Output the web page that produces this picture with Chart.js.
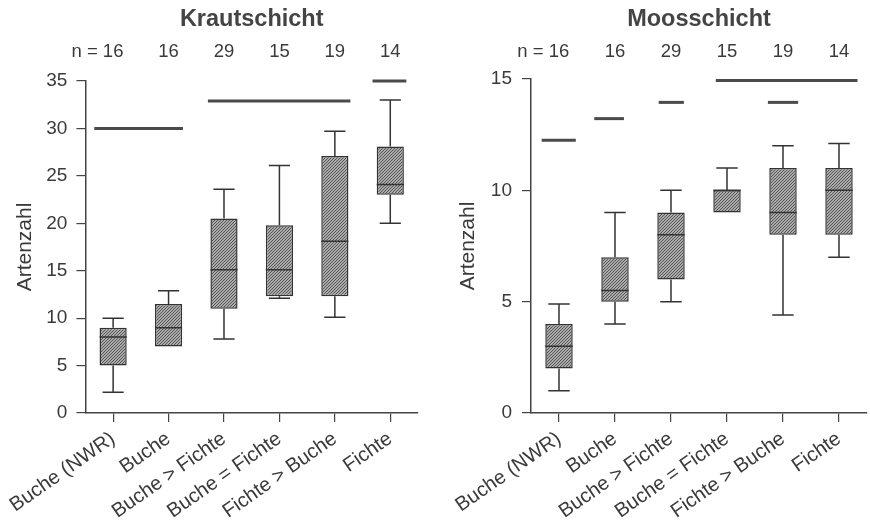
<!DOCTYPE html>
<html lang="de">
<head>
<meta charset="UTF-8">
<title>Artenzahl Kraut- und Moosschicht</title>
<script src="https://cdn.jsdelivr.net/npm/chart.js"></script>
<style>
  body { margin: 0; background: #fff; }
  .wrap { display: flex; width: 870px; height: 526px; }
  canvas { display: block; }
</style>
</head>
<body>
<div class="wrap">
  <canvas id="kraut" width="435" height="526"></canvas>
  <canvas id="moos" width="435" height="526"></canvas>
</div>
<script>
// Kategorien und Stichprobenumfang
const categories = ["Buche (NWR)", "Buche", "Buche > Fichte", "Buche = Fichte", "Fichte > Buche", "Fichte"];
const nCounts = [16, 16, 29, 15, 19, 14];

// Krautschicht: Min, Q1, Median, Q3, Max
const krautMin = [2.2, 7.0, 7.8, 12.1, 10.1, 20.0];
const krautQ1 = [5.0, 7.0, 11.0, 12.3, 12.3, 23.0];
const krautMed = [8.0, 9.0, 15.1, 15.1, 18.1, 24.1];
const krautQ3 = [9.0, 11.5, 20.5, 19.8, 27.1, 28.1];
const krautMax = [10.0, 12.9, 23.6, 26.1, 29.7, 33.0];
// homogene Gruppen (Linien oben)
const krautSigY = [30, 32.9, 35];
const krautSigFrom = [-0.34, 1.71, 4.68];
const krautSigTo = [1.26, 4.28, 5.29];

// Moosschicht
const moosMin = [1.0, 4.0, 5.0, 9.0, 4.4, 7.0];
const moosQ1 = [2.0, 5.0, 6.0, 9.0, 8.0, 8.0];
const moosMed = [3.0, 5.5, 8.0, 10.0, 9.0, 10.0];
const moosQ3 = [4.0, 7.0, 9.0, 10.0, 11.0, 11.0];
const moosMax = [4.9, 9.0, 10.0, 11.0, 12.0, 12.1];
const moosSigY = [12.25, 13.22, 13.95, 14.93, 13.95];
const moosSigFrom = [-0.31, 0.63, 1.78, 2.80, 3.73];
const moosSigTo = [0.30, 1.16, 2.23, 5.33, 4.27];

const FONT = "'Liberation Sans', Arial, sans-serif";
const INK = "#3a3a3a";
Chart.defaults.font.family = FONT;
Chart.defaults.color = INK;

// schraffierte Füllung
function hatch() {
  const c = document.createElement("canvas");
  c.width = 3; c.height = 3;
  const g = c.getContext("2d");
  g.fillStyle = "#ababab";
  g.fillRect(0, 0, 3, 3);
  g.fillStyle = "#555";
  g.fillRect(2, 0, 1, 1);
  g.fillRect(1, 1, 1, 1);
  g.fillRect(0, 2, 1, 1);
  return g.createPattern(c, "repeat");
}

// Whisker, Median, n-Werte und Titel
const boxExtras = {
  id: "boxExtras",
  afterDatasetsDraw(chart, args, opts) {
    const ctx = chart.ctx;
    const x = chart.scales.x, y = chart.scales.y;
    const bars = chart.getDatasetMeta(0).data;
    ctx.save();
    ctx.strokeStyle = "#333";
    ctx.lineWidth = 1.5;
    opts.med.forEach((m, i) => {
      const cx = x.getPixelForValue(i);
      const half = bars[i].width / 2;
      const cap = half * 0.78;
      ctx.beginPath();
      ctx.moveTo(cx - half, y.getPixelForValue(m));
      ctx.lineTo(cx + half, y.getPixelForValue(m));
      if (opts.max[i] > opts.q3[i]) {
        ctx.moveTo(cx, y.getPixelForValue(opts.q3[i]));
        ctx.lineTo(cx, y.getPixelForValue(opts.max[i]));
        ctx.moveTo(cx - cap, y.getPixelForValue(opts.max[i]));
        ctx.lineTo(cx + cap, y.getPixelForValue(opts.max[i]));
      }
      if (opts.min[i] < opts.q1[i]) {
        ctx.moveTo(cx, y.getPixelForValue(opts.q1[i]));
        ctx.lineTo(cx, y.getPixelForValue(opts.min[i]));
        ctx.moveTo(cx - cap, y.getPixelForValue(opts.min[i]));
        ctx.lineTo(cx + cap, y.getPixelForValue(opts.min[i]));
      }
      ctx.stroke();
    });
    ctx.restore();
  },
  afterDraw(chart, args, opts) {
    const ctx = chart.ctx;
    const x = chart.scales.x;
    const area = chart.chartArea;
    ctx.save();
    ctx.fillStyle = "#444";
    ctx.textAlign = "center";
    ctx.textBaseline = "middle";
    ctx.font = "bold 23.5px " + FONT;
    ctx.fillText(opts.title, (area.left + area.right) / 2, 20);
    ctx.fillStyle = INK;
    ctx.font = "18.5px " + FONT;
    nCounts.forEach((n, i) => {
      const cx = x.getPixelForValue(i);
      ctx.textAlign = "center";
      ctx.fillText(String(n), cx, 52);
      if (i === 0) {
        const w = ctx.measureText(String(n)).width;
        ctx.textAlign = "right";
        ctx.fillText("n = ", cx - w / 2, 52);
      }
    });
    ctx.restore();
  }
};

function panel(id, title, yMax, step, stats, sigY, sigFrom, sigTo, layout) {
  const datasets = [{
    type: "bar",
    data: stats.q1.map((v, i) => [v, stats.q3[i]]),
    backgroundColor: hatch(),
    borderColor: "#333",
    borderWidth: 1.5,
    borderSkipped: false,
    grouped: false,
    barPercentage: 0.49,
    categoryPercentage: 1,
    xAxisID: "x",
    yAxisID: "y"
  }];
  sigY.forEach((v, i) => {
    datasets.push({
      type: "line",
      data: [{ x: sigFrom[i], y: v }, { x: sigTo[i], y: v }],
      borderColor: "#4a4a4a",
      borderWidth: 3,
      pointRadius: 0,
      clip: false,
      xAxisID: "xs",
      yAxisID: "y"
    });
  });

  new Chart(document.getElementById(id), {
    type: "bar",
    data: { labels: categories, datasets: datasets },
    options: {
      responsive: false,
      animation: false,
      layout: { padding: { top: layout.top, right: layout.right, left: 0, bottom: 0 } },
      plugins: {
        legend: { display: false },
        tooltip: { enabled: false },
        boxExtras: Object.assign({ title: title }, stats)
      },
      scales: {
        x: {
          type: "category",
          grid: { offset: false, drawOnChartArea: false, tickLength: 9, color: "#444", lineWidth: 1.2 },
          border: { color: "#444", width: 1.5 },
          ticks: { minRotation: 35, maxRotation: 35, padding: 5, font: { size: 20 }, color: INK },
          afterFit(s) { s.height = 113; }
        },
        xs: { type: "linear", display: false, offset: false, min: -0.5, max: 5.5 },
        y: {
          min: 0,
          max: yMax,
          ticks: { stepSize: step, padding: layout.tickPad, font: { size: 19 }, color: INK },
          grid: { drawOnChartArea: false, tickLength: 9, color: "#444", lineWidth: 1.2 },
          border: { color: "#444", width: 1.5 },
          title: { display: true, text: "Artenzahl", font: { size: 21 }, color: INK, padding: { top: layout.titlePad, bottom: 0 } },
          afterFit(s) { s.width = layout.yWidth; }
        }
      }
    },
    plugins: [boxExtras]
  });
}

panel("kraut", "Krautschicht", 35, 5,
  { min: krautMin, q1: krautQ1, med: krautMed, q3: krautQ3, max: krautMax },
  krautSigY, krautSigFrom, krautSigTo,
  { top: 81, right: 17, yWidth: 85, tickPad: 9, titlePad: 12 });

panel("moos", "Moosschicht", 15, 5,
  { min: moosMin, q1: moosQ1, med: moosMed, q3: moosQ3, max: moosMax },
  moosSigY, moosSigFrom, moosSigTo,
  { top: 79, right: 3, yWidth: 96, tickPad: 10, titlePad: 21 });
</script>
</body>
</html>
